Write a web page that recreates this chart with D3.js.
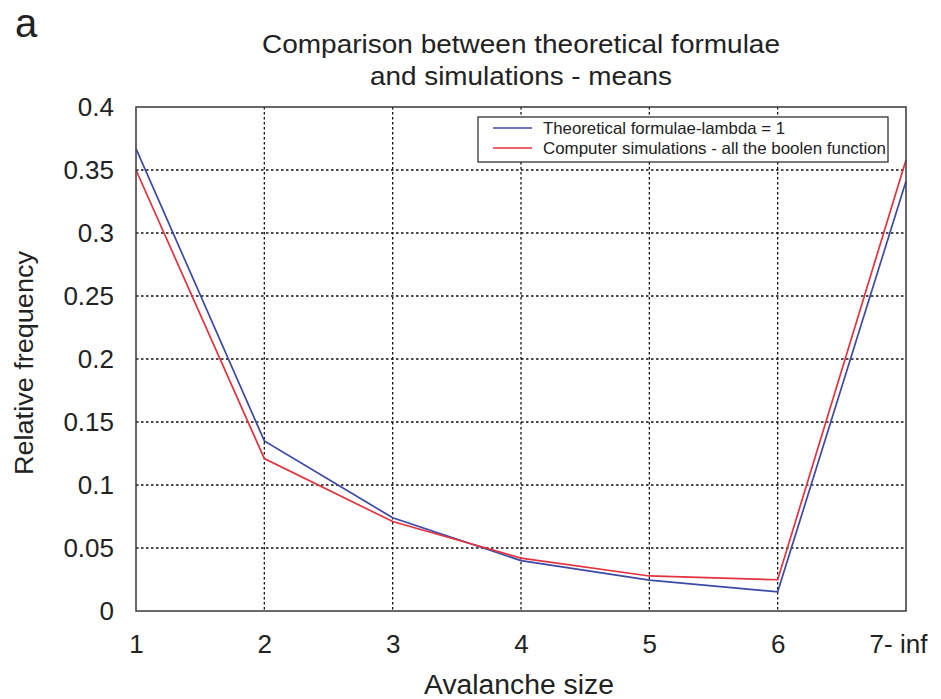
<!DOCTYPE html>
<html>
<head>
<meta charset="utf-8">
<script src="https://cdn.jsdelivr.net/npm/d3@7/dist/d3.min.js"></script>
<style>
  html, body { margin: 0; padding: 0; background: #fff; }
  svg { display: block; font-family: "Liberation Sans", Arial, sans-serif; }
</style>
</head>
<body>
<svg id="chart" width="941" height="699"></svg>
<script>
// Avalanche size categories (7 = "7- inf")
const sizes = [1, 2, 3, 4, 5, 6, 7];
const xTickLabels = ["1", "2", "3", "4", "5", "6", "7- inf"];
const yTicks = [0, 0.05, 0.1, 0.15, 0.2, 0.25, 0.3, 0.35, 0.4];
const yTickLabels = ["0", "0.05", "0.1", "0.15", "0.2", "0.25", "0.3", "0.35", "0.4"];

// Mean relative frequencies
const theoretical = [0.367, 0.135, 0.074, 0.040, 0.0245, 0.0152, 0.341];
const simulations = [0.350, 0.121, 0.071, 0.042, 0.0278, 0.0248, 0.358];

const seriesNames = [
  "Theoretical formulae-lambda = 1",
  "Computer simulations - all the boolen function"
];
const seriesColors = ["#3b4aa6", "#e2333f"];

const svg = d3.select("#chart");
const m = { left: 136, right: 906, top: 107, bottom: 611 };

const x = d3.scaleLinear().domain([1, 7]).range([m.left, m.right]);
const y = d3.scaleLinear().domain([0, 0.4]).range([m.bottom, m.top]);

const textColor = "#222";

// Dotted grid
const grid = svg.append("g");
grid.selectAll("line.gx")
  .data(sizes.slice(1, -1))
  .join("line")
  .attr("x1", d => x(d)).attr("x2", d => x(d))
  .attr("y1", m.top).attr("y2", m.bottom)
  .attr("stroke", "#111").attr("stroke-width", 1.3)
  .attr("stroke-dasharray", "2.5,2.5");
grid.selectAll("line.gy")
  .data(yTicks.slice(1, -1))
  .join("line")
  .attr("x1", m.left).attr("x2", m.right)
  .attr("y1", d => y(d)).attr("y2", d => y(d))
  .attr("stroke", "#111").attr("stroke-width", 1.3)
  .attr("stroke-dasharray", "2.5,2.5");

// Axes
const xAxis = d3.axisBottom(x).tickValues(sizes)
  .tickFormat((d, i) => xTickLabels[i]).tickSize(0).tickPadding(24);
const yAxis = d3.axisLeft(y).tickValues(yTicks)
  .tickFormat((d, i) => yTickLabels[i]).tickSize(0).tickPadding(22);

const gx = svg.append("g").attr("transform", `translate(0,${m.bottom})`).call(xAxis);
const gy = svg.append("g").attr("transform", `translate(${m.left},0)`).call(yAxis);
[gx, gy].forEach(g => {
  g.select(".domain").remove();
  g.selectAll("text").attr("fill", textColor).style("font-size", "26px");
});
gx.selectAll("text").filter((d, i) => i === sizes.length - 1).attr("dx", -8);

// Lines
const line = d3.line().x((d, i) => x(sizes[i])).y(d => y(d));
[theoretical, simulations].forEach((s, k) => {
  svg.append("path")
    .datum(s)
    .attr("d", line)
    .attr("fill", "none")
    .attr("stroke", seriesColors[k])
    .attr("stroke-width", 1.7);
});

// Plot frame
svg.append("rect")
  .attr("x", m.left).attr("y", m.top)
  .attr("width", m.right - m.left).attr("height", m.bottom - m.top)
  .attr("fill", "none").attr("stroke", "#444").attr("stroke-width", 1.6);

// Legend
const lg = svg.append("g");
lg.append("rect")
  .attr("x", 478).attr("y", 117).attr("width", 410).attr("height", 45)
  .attr("fill", "#fff").attr("stroke", "#333").attr("stroke-width", 1.3);
const legendTextLen = [242, 343];
seriesNames.forEach((name, k) => {
  const yy = 128 + k * 20;
  lg.append("line")
    .attr("x1", 493).attr("x2", 532).attr("y1", yy).attr("y2", yy)
    .attr("stroke", seriesColors[k]).attr("stroke-width", 1.4);
  lg.append("text")
    .attr("x", 543).attr("y", yy + 6)
    .attr("fill", textColor).style("font-size", "16.5px")
    .attr("textLength", legendTextLen[k]).attr("lengthAdjust", "spacingAndGlyphs")
    .text(name);
});

// Titles
function label(txt, xx, yy, size, len) {
  return svg.append("text").attr("x", xx).attr("y", yy).attr("text-anchor", "middle")
    .attr("fill", textColor).style("font-size", size + "px")
    .attr("textLength", len).attr("lengthAdjust", "spacingAndGlyphs")
    .text(txt);
}
label("Comparison between theoretical formulae", 521, 53, 25, 518);
label("and simulations - means", 521, 85, 25, 302);
label("Avalanche size", 519, 694, 27, 190);
svg.append("text")
  .attr("transform", "translate(33,363) rotate(-90)")
  .attr("text-anchor", "middle")
  .attr("fill", textColor).style("font-size", "25px")
  .attr("textLength", 224).attr("lengthAdjust", "spacingAndGlyphs")
  .text("Relative frequency");
svg.append("text").attr("x", 15).attr("y", 36.5)
  .attr("fill", textColor).style("font-size", "40px")
  .text("a");
</script>
</body>
</html>
